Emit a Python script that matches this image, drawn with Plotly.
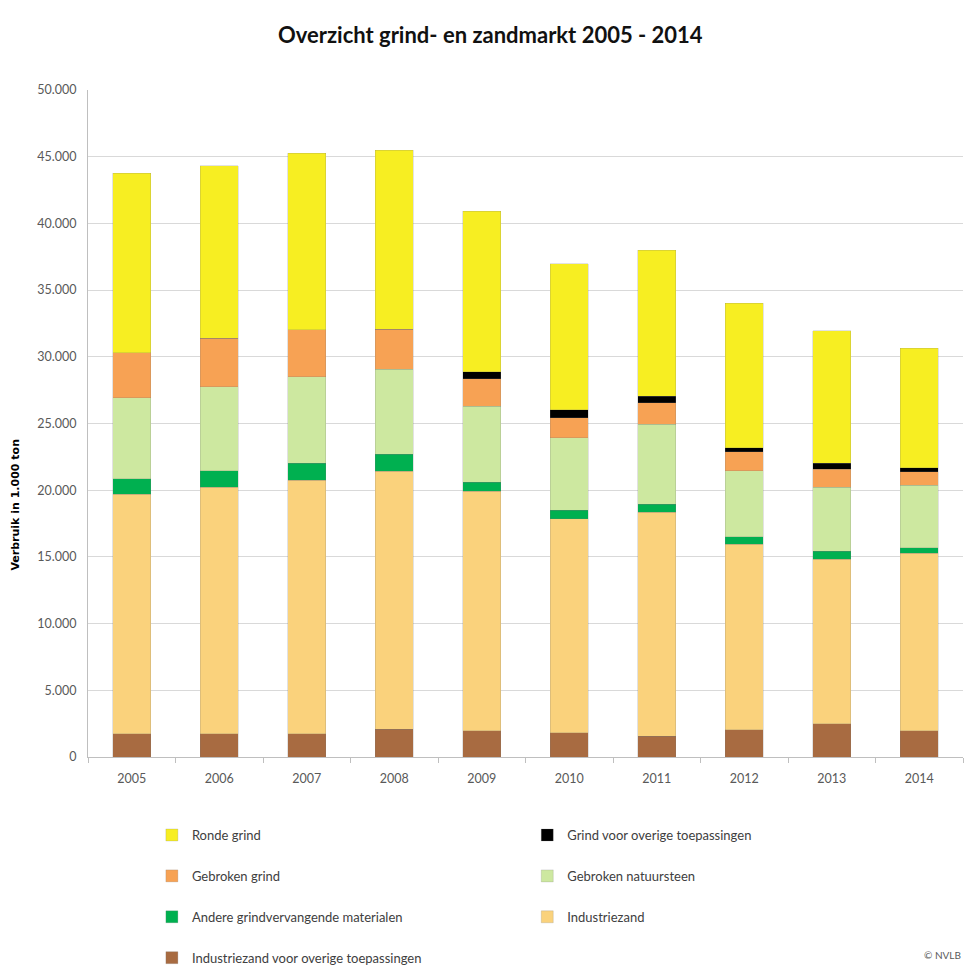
import plotly.graph_objects as go

years = ["2005", "2006", "2007", "2008", "2009", "2010", "2011", "2012", "2013", "2014"]

# Verbruik in 1.000 ton per categorie (van onder naar boven gestapeld)
industriezand_overig = [1740, 1740, 1740, 2070, 1970, 1800, 1540, 2040, 2500, 1970]
industriezand = [17970, 18500, 19000, 19340, 17970, 16070, 16800, 13890, 12330, 13290]
andere_grindvervangend = [1130, 1200, 1270, 1270, 670, 630, 600, 570, 600, 440]
gebroken_natuursteen = [6080, 6320, 6510, 6380, 5680, 5450, 6010, 4940, 4810, 4670]
gebroken_grind = [3370, 3640, 3510, 3000, 2070, 1500, 1600, 1440, 1340, 1010]
grind_overig = [0, 0, 0, 0, 530, 570, 500, 300, 430, 300]
ronde_grind = [13460, 12920, 13230, 13430, 12020, 10950, 10930, 10850, 9950, 8950]

y_tick_vals = [0, 5000, 10000, 15000, 20000, 25000, 30000, 35000, 40000, 45000, 50000]
y_tick_text = ["0", "5.000", "10.000", "15.000", "20.000", "25.000", "30.000",
               "35.000", "40.000", "45.000", "50.000"]

# naam, waarden, kleur, legendakolom, positie in de kolom
series = [
    ("Industriezand voor overige toepassingen", industriezand_overig, "#A86B41", "legend", 4),
    ("Industriezand", industriezand, "#FAD27C", "legend2", 3),
    ("Andere grindvervangende materialen", andere_grindvervangend, "#00B050", "legend", 3),
    ("Gebroken natuursteen", gebroken_natuursteen, "#CDE8A0", "legend2", 2),
    ("Gebroken grind", gebroken_grind, "#F7A254", "legend", 2),
    ("Grind voor overige toepassingen", grind_overig, "#000000", "legend2", 1),
    ("Ronde grind", ronde_grind, "#F7EE22", "legend", 1),
]

fig = go.Figure()
for i, (name, vals, color, leg, rank) in enumerate(series):
    fig.add_trace(go.Bar(
        x=years, y=vals, name=name, legend=leg, legendgroup=f"g{i}", legendrank=rank,
        marker=dict(color=color, line=dict(color="rgba(120,120,120,0.35)", width=0.6)),
    ))

legend_font = dict(family="Lato, Open Sans, sans-serif", size=13, color="#404040")
tick_font = dict(family="Lato, Open Sans, sans-serif", size=12.5, color="#595959")

fig.update_layout(
    width=969, height=967,
    margin=dict(l=88, r=6, t=90, b=210, autoexpand=False),
    paper_bgcolor="white", plot_bgcolor="white",
    barmode="stack", bargap=0.57,
    title=dict(text="<b>Overzicht grind- en zandmarkt 2005 - 2014</b>",
               x=0.506, xanchor="center", y=0.964, yanchor="middle",
               font=dict(family="Lato, Open Sans, sans-serif", size=22, color="#111111")),
    xaxis=dict(showline=True, linecolor="#BFBFBF", linewidth=1,
               ticks="outside", tickson="boundaries", ticklen=5, tickcolor="#BFBFBF",
               ticklabelstandoff=10, tickfont=tick_font),
    yaxis=dict(range=[0, 50000], tickvals=y_tick_vals, ticktext=y_tick_text,
               showline=True, linecolor="#BFBFBF", linewidth=1,
               showgrid=True, gridcolor="#D9D9D9", gridwidth=1, zeroline=False,
               ticks="", ticklabelstandoff=8, tickfont=tick_font),
    legend=dict(orientation="v", x=0.073, y=-0.0945, xanchor="left", yanchor="top",
                traceorder="grouped", tracegroupgap=21,
                font=legend_font, itemwidth=30, bgcolor="rgba(0,0,0,0)"),
    legend2=dict(orientation="v", x=0.502, y=-0.0945, xanchor="left", yanchor="top",
                 traceorder="grouped", tracegroupgap=21,
                 font=legend_font, itemwidth=30, bgcolor="rgba(0,0,0,0)"),
    showlegend=True,
)

fig.add_annotation(text="<b>Verbruik in 1.000 ton</b>", textangle=-90,
                   xref="paper", yref="paper", x=-0.083, y=0.379,
                   xanchor="center", yanchor="middle", showarrow=False,
                   font=dict(family="DejaVu Sans, Verdana, sans-serif", size=11, color="#000000"))
fig.add_annotation(text="© NVLB", xref="paper", yref="paper", x=1.0, y=-0.297,
                   xanchor="right", yanchor="middle", showarrow=False,
                   font=dict(family="Lato, Open Sans, sans-serif", size=10, color="#595959"))

fig.write_html("out.html")
